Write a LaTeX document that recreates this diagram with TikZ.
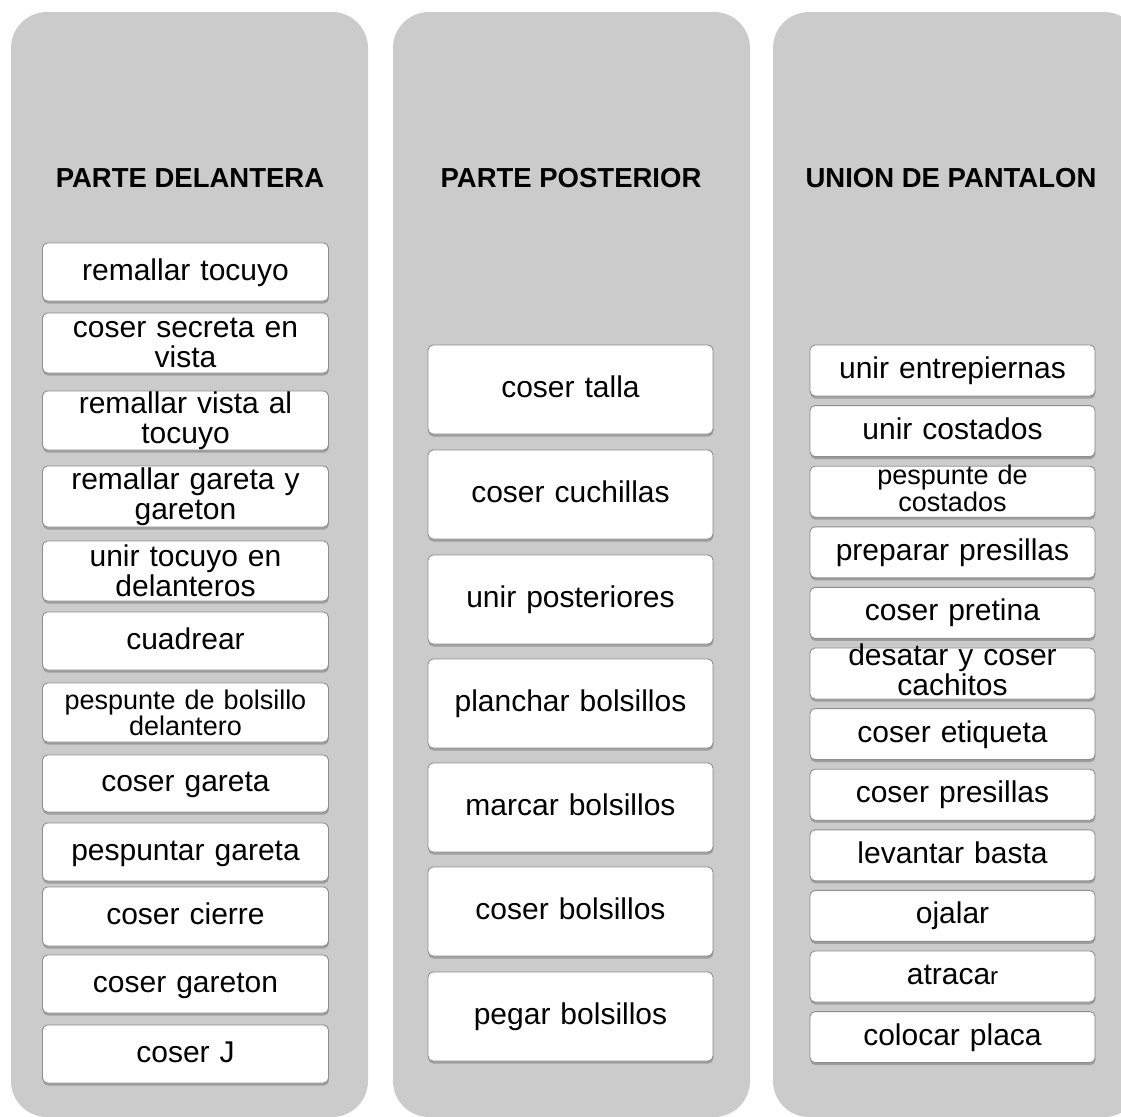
\documentclass[tikz,border=0pt]{standalone}
\usepackage{fontspec}
\setmainfont{Liberation Sans}
\usetikzlibrary{shadows}

\definecolor{panelgray}{HTML}{CBCBCB}
\definecolor{boxline}{HTML}{8E8E8E}

\tikzset{
  panel/.style={fill=panelgray, draw=none, rounded corners=36bp},
  coltitle/.style={font=\bfseries\fontsize{27.5bp}{30bp}\selectfont, inner sep=0pt, anchor=base},
  stepbox/.style={draw=boxline, line width=0.9bp, fill=white, rounded corners=5bp, inner sep=0pt,
    drop shadow={shadow xshift=0.4bp, shadow yshift=-2.5bp, opacity=0.4, fill=black!65}},
  steptext/.style={inner sep=0pt, align=center, text width=275bp,
    text height=22bp, text depth=6bp,
    font=\fontsize{30bp}{30bp}\selectfont},
  multi/.style={text height={}, text depth={}},
  smalltext/.style={multi, font=\fontsize{27bp}{26bp}\selectfont},
  midtext/.style={multi, font=\fontsize{27bp}{27bp}\selectfont},
}

% \opbox[text options]{name}{centre x}{top y}{width}{height}{text}
\newcommand\opbox[7][]{%
  \node[stepbox, minimum width=#5bp, minimum height=#6bp] (#2) at (#3, #4+#6/2) {};
  \node[steptext, #1] (#2t) at (#2.center) {#7};
}

\begin{document}
\begin{tikzpicture}[x=1bp, y=-1bp]
  \useasboundingbox (0,0) rectangle (1121,1117);
  \clip (0,0) rectangle (1121,1117);

  % column panels
  \fill[panel] (11,12) rectangle (368,1117);
  \fill[panel] (393,12) rectangle (750,1117);
  \fill[panel] (773,12) rectangle (1140,1117);

  % column titles
  \node[coltitle] (t1) at (190,187) {PARTE DELANTERA};
  \node[coltitle] (t2) at (571,187) {PARTE POSTERIOR};
  \node[coltitle] (t3) at (951,187) {UNION DE PANTALON};

  % front part
  \opbox{d1}{185.5}{243}{286}{58}{remallar tocuyo}
  \opbox[multi]{d2}{185.5}{313}{286}{60}{coser secreta en\\vista}
  \opbox[multi]{d3}{185.5}{391}{286}{59}{remallar vista al\\tocuyo}
  \opbox[multi]{d4}{185.5}{466}{286}{61}{remallar gareta y\\gareton}
  \opbox[multi]{d5}{185.5}{541}{286}{60}{unir tocuyo en\\delanteros}
  \opbox{d6}{185.5}{612}{286}{58}{cuadrear}
  \opbox[smalltext]{d7}{185.5}{683}{286}{59}{pespunte de bolsillo\\delantero}
  \opbox{d8}{185.5}{755}{286}{57}{coser gareta}
  \opbox{d9}{185.5}{823}{286}{58}{pespuntar gareta}
  \opbox{d10}{185.5}{887}{286}{59}{coser cierre}
  \opbox{d11}{185.5}{955}{286}{58}{coser gareton}
  \opbox{d12}{185.5}{1025}{286}{58}{coser J}

  % back part
  \opbox{p1}{570.5}{345}{285}{89}{coser talla}
  \opbox{p2}{570.5}{450}{285}{89}{coser cuchillas}
  \opbox{p3}{570.5}{555}{285}{89}{unir posteriores}
  \opbox{p4}{570.5}{659}{285}{89}{planchar bolsillos}
  \opbox{p5}{570.5}{763}{285}{89}{marcar bolsillos}
  \opbox{p6}{570.5}{867}{285}{89}{coser bolsillos}
  \opbox{p7}{570.5}{972}{285}{89}{pegar bolsillos}

  % trouser assembly
  \opbox{u1}{952.5}{345}{285}{51}{unir entrepiernas}
  \opbox{u2}{952.5}{405.6}{285}{51}{unir costados}
  \opbox[midtext, yshift=3bp]{u3}{952.5}{466.2}{285}{51}{pespunte de\\costados}
  \opbox{u4}{952.5}{526.8}{285}{51}{preparar presillas}
  \opbox{u5}{952.5}{587.4}{285}{51}{coser pretina}
  \opbox[multi, yshift=4bp]{u6}{952.5}{648}{285}{51}{desatar y coser\\cachitos}
  \opbox{u7}{952.5}{708.6}{285}{51}{coser etiqueta}
  \opbox{u8}{952.5}{769.2}{285}{51}{coser presillas}
  \opbox{u9}{952.5}{829.8}{285}{51}{levantar basta}
  \opbox{u10}{952.5}{890.4}{285}{51}{ojalar}
  \opbox{u11}{952.5}{951}{285}{51}{atraca{\fontsize{24bp}{24bp}\selectfont r}}
  \opbox{u12}{952.5}{1011.6}{285}{51}{colocar placa}
\end{tikzpicture}
\end{document}
